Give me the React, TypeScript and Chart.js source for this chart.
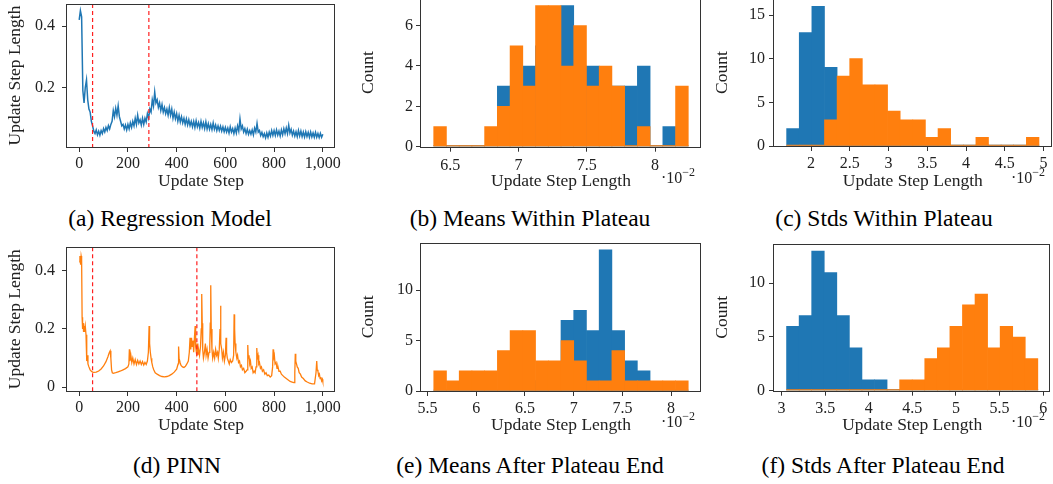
import React, { useEffect, useRef } from 'react';
import { Chart, registerables } from 'chart.js';

Chart.register(...registerables);

const BLUE = '#1f77b4';
const ORANGE = '#ff7f0e';
const SPINE = '#333333';
const TEXT = '#222222';
const FONT = "'Liberation Serif', 'Times New Roman', serif";

// ---------- (a) Regression model: update step length, one value every 5 steps ----------
const regressionLength = [
  0.42, 0.45, 0.43, 0.19, 0.15, 0.2, 0.225, 0.16, 0.13, 0.12,
  0.09, 0.075, 0.058, 0.05, 0.062, 0.046, 0.058, 0.045, 0.06, 0.05,
  0.066, 0.055, 0.07, 0.06, 0.076, 0.065, 0.08, 0.09, 0.125, 0.105,
  0.132, 0.11, 0.14, 0.105,
  0.09, 0.075, 0.08, 0.065, 0.078, 0.062, 0.08, 0.065, 0.085, 0.07,
  0.09, 0.075, 0.1, 0.08, 0.11, 0.085, 0.095, 0.078, 0.1, 0.08,
  0.1, 0.088, 0.115, 0.1, 0.13, 0.12, 0.16, 0.14, 0.185, 0.15,
  0.16, 0.135, 0.15, 0.125, 0.145, 0.12, 0.135, 0.115, 0.13, 0.11,
  0.135, 0.11, 0.13, 0.1, 0.12, 0.098, 0.115, 0.09, 0.11, 0.088,
  0.105, 0.085, 0.1, 0.08, 0.098, 0.078, 0.095, 0.076, 0.09, 0.072,
  0.09, 0.07, 0.092, 0.072, 0.086, 0.068, 0.09, 0.07, 0.085, 0.066,
  0.088, 0.065, 0.082, 0.064, 0.08, 0.063, 0.085, 0.064, 0.078, 0.06,
  0.075, 0.06, 0.074, 0.058, 0.072, 0.056, 0.07, 0.055, 0.068, 0.052,
  0.072, 0.055, 0.066, 0.05, 0.068, 0.052, 0.075, 0.058, 0.098, 0.065,
  0.075, 0.055, 0.066, 0.05, 0.064, 0.048, 0.06, 0.048, 0.062, 0.046,
  0.068, 0.055, 0.083, 0.055, 0.06, 0.044, 0.054, 0.04, 0.05, 0.036,
  0.052, 0.038, 0.055, 0.042, 0.06, 0.044, 0.06, 0.044, 0.062, 0.045,
  0.058, 0.042, 0.062, 0.046, 0.066, 0.05, 0.068, 0.05, 0.077, 0.052,
  0.064, 0.045, 0.058, 0.042, 0.056, 0.04, 0.06, 0.042, 0.058, 0.04,
  0.055, 0.039, 0.056, 0.04, 0.054, 0.038, 0.055, 0.039, 0.052, 0.038,
  0.054, 0.038, 0.05, 0.037, 0.051, 0.038, 0.048,
];
const regressionStepSize = 5;
const regressionPlateau = [55, 286];

// ---------- (d) PINN: update step length ----------
const pinnSteps = [
  0, 3, 6, 8, 10, 12, 14, 16, 18, 20,
  22, 25, 28, 30, 32, 34, 36, 40, 45, 50,
  55, 60, 70, 80, 90, 100, 110, 118, 123, 127,
  130, 133, 136, 140, 150, 160, 170, 180, 190, 200,
  204, 206, 208, 212, 216, 220, 225, 230, 235, 240,
  245, 250, 255, 260, 265, 270, 275, 280, 284, 287,
  289, 292, 295, 298, 302, 306, 312, 320, 330, 340,
  350, 360, 370, 380, 390, 400, 406, 408, 410, 414,
  418, 424, 430, 436, 442, 448, 452, 455, 458, 461,
  464, 467, 470, 473, 476, 478, 481, 484, 487, 490,
  494, 498, 501, 503, 505, 507, 510, 514, 518, 521,
  525, 529, 533, 536, 538, 540, 542, 545, 548, 552,
  556, 560, 564, 568, 571, 575, 578, 580, 582, 585,
  588, 592, 596, 600, 603, 605, 608, 612, 616, 620,
  625, 630, 634, 636, 638, 640, 643, 647, 650, 654,
  658, 662, 666, 670, 675, 680, 685, 689, 692, 694,
  697, 700, 703, 706, 710, 714, 718, 722, 726, 729,
  731, 734, 737, 740, 744, 748, 752, 757, 762, 767,
  772, 778, 784, 790, 794, 796, 798, 801, 804, 808,
  812, 816, 820, 825, 830, 836, 842, 850, 858, 866,
  874, 882, 885, 887, 889, 892, 895, 899, 903, 908,
  913, 920, 928, 936, 946, 956, 966, 972, 975, 977,
  980, 983, 986, 989, 992, 995, 998, 1000,
];
const pinnLength = [
  0.43, 0.45, 0.42, 0.45, 0.44, 0.24, 0.2, 0.22, 0.19, 0.21,
  0.19, 0.21, 0.18, 0.12, 0.09, 0.11, 0.08, 0.07, 0.06, 0.055,
  0.052, 0.051, 0.052, 0.056, 0.063, 0.073, 0.088, 0.105, 0.118, 0.125,
  0.1, 0.06, 0.05, 0.048, 0.05, 0.053, 0.056, 0.06, 0.064, 0.07,
  0.08, 0.13, 0.09, 0.11, 0.085, 0.1, 0.08, 0.095, 0.078, 0.092,
  0.08, 0.09, 0.078, 0.088, 0.076, 0.085, 0.078, 0.09, 0.12, 0.21,
  0.15, 0.12, 0.1, 0.085, 0.07, 0.06, 0.05, 0.045, 0.04, 0.037,
  0.036, 0.037, 0.04, 0.045, 0.052, 0.062, 0.08, 0.14, 0.1, 0.085,
  0.075, 0.07, 0.068, 0.072, 0.08, 0.09, 0.12, 0.17, 0.13, 0.17,
  0.14, 0.16, 0.12, 0.17, 0.21, 0.14, 0.12, 0.15, 0.11, 0.13,
  0.11, 0.14, 0.2, 0.32, 0.22, 0.13, 0.1, 0.12, 0.15, 0.11,
  0.13, 0.1, 0.12, 0.14, 0.22, 0.35, 0.2, 0.13, 0.1, 0.12,
  0.1, 0.13, 0.11, 0.12, 0.1, 0.13, 0.2, 0.28, 0.15, 0.13,
  0.1, 0.12, 0.09, 0.11, 0.17, 0.12, 0.1, 0.09, 0.08, 0.095,
  0.085, 0.09, 0.11, 0.25, 0.2, 0.15, 0.12, 0.1, 0.11, 0.085,
  0.09, 0.07, 0.075, 0.06, 0.065, 0.05, 0.055, 0.06, 0.145, 0.1,
  0.11, 0.08, 0.09, 0.065, 0.07, 0.05, 0.055, 0.05, 0.07, 0.135,
  0.1, 0.11, 0.08, 0.085, 0.065, 0.07, 0.055, 0.06, 0.045, 0.05,
  0.04, 0.042, 0.035, 0.04, 0.07, 0.13, 0.1, 0.11, 0.08, 0.085,
  0.065, 0.07, 0.055, 0.055, 0.045, 0.04, 0.035, 0.03, 0.025, 0.02,
  0.018, 0.016, 0.05, 0.115, 0.09, 0.08, 0.07, 0.065, 0.05, 0.045,
  0.035, 0.03, 0.022, 0.018, 0.014, 0.012, 0.012, 0.05, 0.09, 0.06,
  0.055, 0.04, 0.045, 0.03, 0.035, 0.022, 0.028, 0.02,
];
const pinnPlateau = [55, 483];

const stepTicks = [0, 200, 400, 600, 800, 1000];
const regressionLengthTicks = [0.2, 0.4];
const pinnLengthTicks = [0, 0.2, 0.4];

// ---------- Histograms (x in units of 1e-2), 20 bins each ----------
// (b) Means within plateau
const meansWithinBinStart = 6.379;
const meansWithinBinWidth = 0.0932;
const meansWithinRegression = [0, 0, 0, 0, 0, 3, 3, 4, 5, 6, 7, 4, 4, 3, 3, 3, 4, 0, 1, 0];
const meansWithinPinn = [1, 0, 0, 0, 1, 2, 5, 3, 7, 7, 4, 6, 3, 4, 3, 0, 1, 0, 0, 3];
const meansWithinXTicks = [6.5, 7, 7.5, 8];
const meansWithinYTicks = [0, 2, 4, 6];

// (c) Stds within plateau
const stdsWithinBinStart = 1.684;
const stdsWithinBinWidth = 0.1628;
const stdsWithinRegression = [2, 13, 16, 9, 7, 3, 0, 0, 0, 0, 0, 0, 0, 0, 0, 0, 0, 0, 0, 0];
const stdsWithinPinn = [0, 0, 0, 3, 8, 10, 7, 7, 4, 3, 3, 1, 2, 0, 0, 1, 0, 0, 0, 1];
const stdsWithinXTicks = [2, 2.5, 3, 3.5, 4, 4.5, 5];
const stdsWithinYTicks = [0, 5, 10, 15];

// (e) Means after plateau end
const meansAfterBinStart = 5.564;
const meansAfterBinWidth = 0.1306;
const meansAfterRegression = [0, 0, 0, 0, 0, 0, 0, 1, 1, 2, 7, 8, 6, 14, 6, 3, 2, 0, 0, 0];
const meansAfterPinn = [2, 1, 2, 2, 2, 4, 6, 6, 3, 3, 5, 3, 1, 1, 4, 1, 1, 1, 1, 1];
const meansAfterXTicks = [5.5, 6, 6.5, 7, 7.5, 8];
const meansAfterYTicks = [0, 5, 10];

// (f) Stds after plateau end
const stdsAfterBinStart = 3.058;
const stdsAfterBinWidth = 0.144;
const stdsAfterRegression = [6, 7, 13, 11, 7, 4, 1, 1, 0, 0, 0, 0, 0, 0, 0, 0, 0, 0, 0, 0];
const stdsAfterPinn = [0, 0, 0, 0, 0, 0, 0, 0, 0, 1, 1, 3, 4, 6, 8, 9, 4, 6, 5, 3];
const stdsAfterXTicks = [3, 3.5, 4, 4.5, 5, 5.5, 6];
const stdsAfterYTicks = [0, 5, 10];

const captions = [
  '(a) Regression Model',
  '(b) Means Within Plateau',
  '(c) Stds Within Plateau',
  '(d) PINN',
  '(e) Means After Plateau End',
  '(f) Stds After Plateau End',
];

// ---------- helpers ----------
const histPoints = (counts: number[], start: number, width: number) =>
  counts.map((c, i) => ({ x: start + (i + 0.5) * width, y: c }));

const histDatasets = (blue: number[], orange: number[], start: number, width: number) => [
  {
    label: 'Regression',
    data: histPoints(blue, start, width),
    backgroundColor: BLUE,
    borderWidth: 0,
    barPercentage: 1,
    categoryPercentage: 1,
    grouped: false,
    minBarLength: 1,
    order: 1,
  },
  {
    label: 'PINN',
    data: histPoints(orange, start, width),
    backgroundColor: ORANGE,
    borderWidth: 0,
    barPercentage: 1,
    categoryPercentage: 1,
    grouped: false,
    minBarLength: 1,
    order: 0,
  },
];

const fmtNum = (v: number) => (Math.abs(v) >= 1000 ? v.toLocaleString('en-US') : String(Math.round(v * 1000) / 1000));

type Box = { left: number; top: number; width: number; height: number };
type Area = { left: number; top: number; right: number; bottom: number };
type Panel = {
  canvas: Box;
  area: Area;
  type: 'line' | 'bar';
  datasets: any[];
  xMin: number; xMax: number; xTicks: number[]; xTitle: string; xPad: number; xTitlePad: number;
  yMin: number; yMax: number; yTicks: number[]; yTitle: string; yPad: number; yTitlePad: number;
  vlines: number[];
};

const lineDataset = (xs: number[], ys: number[], color: string, width: number) => ({
  data: ys.map((y, i) => ({ x: xs[i], y })),
  borderColor: color,
  backgroundColor: color,
  borderWidth: width,
  pointRadius: 0,
  tension: 0,
  fill: false,
});

const regressionSteps = regressionLength.map((_, i) => i * regressionStepSize);

const panels: Panel[] = [
  {
    canvas: { left: 0, top: 0, width: 345, height: 192 },
    area: { left: 67, top: 4, right: 335, bottom: 147 },
    type: 'line',
    datasets: [lineDataset(regressionSteps, regressionLength, BLUE, 1.5)],
    xMin: -50, xMax: 1050, xTicks: stepTicks, xTitle: 'Update Step', xPad: 2.4, xTitlePad: 0,
    yMin: 0.0064, yMax: 0.4717, yTicks: regressionLengthTicks, yTitle: 'Update Step Length', yPad: 7, yTitlePad: 5,
    vlines: regressionPlateau,
  },
  {
    canvas: { left: 350, top: -12, width: 362, height: 204 },
    area: { left: 421, top: -1.6, right: 701, bottom: 146.7 },
    type: 'bar',
    datasets: histDatasets(meansWithinRegression, meansWithinPinn, meansWithinBinStart, meansWithinBinWidth),
    xMin: 6.286, xMax: 8.336, xTicks: meansWithinXTicks, xTitle: 'Update Step Length', xPad: 4.5, xTitlePad: 0,
    yMin: 0, yMax: 7.35, yTicks: meansWithinYTicks, yTitle: 'Count', yPad: 3, yTitlePad: 7.5,
    vlines: [],
  },
  {
    canvas: { left: 700, top: -12, width: 353, height: 204 },
    area: { left: 774, top: -0.7, right: 1051.6, bottom: 146 },
    type: 'bar',
    datasets: histDatasets(stdsWithinRegression, stdsWithinPinn, stdsWithinBinStart, stdsWithinBinWidth),
    xMin: 1.521, xMax: 5.103, xTicks: stdsWithinXTicks, xTitle: 'Update Step Length', xPad: 3.4, xTitlePad: 0,
    yMin: 0, yMax: 16.8, yTicks: stdsWithinYTicks, yTitle: 'Count', yPad: 4, yTitlePad: 11.5,
    vlines: [],
  },
  {
    canvas: { left: 0, top: 236, width: 345, height: 200 },
    area: { left: 67, top: 247.3, right: 335, bottom: 391 },
    type: 'line',
    datasets: [lineDataset(pinnSteps, pinnLength, ORANGE, 1.3)],
    xMin: -50, xMax: 1050, xTicks: stepTicks, xTitle: 'Update Step', xPad: 2.4, xTitlePad: 0.5,
    yMin: -0.0127, yMax: 0.48, yTicks: pinnLengthTicks, yTitle: 'Update Step Length', yPad: 7, yTitlePad: 5,
    vlines: pinnPlateau,
  },
  {
    canvas: { left: 350, top: 236, width: 362, height: 200 },
    area: { left: 421, top: 242.7, right: 701, bottom: 391 },
    type: 'bar',
    datasets: histDatasets(meansAfterRegression, meansAfterPinn, meansAfterBinStart, meansAfterBinWidth),
    xMin: 5.433, xMax: 8.307, xTicks: meansAfterXTicks, xTitle: 'Update Step Length', xPad: 3.4, xTitlePad: 0,
    yMin: 0, yMax: 14.7, yTicks: meansAfterYTicks, yTitle: 'Count', yPad: 3, yTitlePad: 7.5,
    vlines: [],
  },
  {
    canvas: { left: 700, top: 236, width: 353, height: 200 },
    area: { left: 774, top: 244, right: 1050.4, bottom: 390.7 },
    type: 'bar',
    datasets: histDatasets(stdsAfterRegression, stdsAfterPinn, stdsAfterBinStart, stdsAfterBinWidth),
    xMin: 2.914, xMax: 6.082, xTicks: stdsAfterXTicks, xTitle: 'Update Step Length', xPad: 3.7, xTitlePad: 0,
    yMin: 0, yMax: 13.65, yTicks: stdsAfterYTicks, yTitle: 'Count', yPad: 4, yTitlePad: 11.5,
    vlines: [],
  },
];

const framePlugin = (vlines: number[]) => ({
  id: 'frameAndLines',
  afterDatasetsDraw(chart: any) {
    const { ctx, chartArea: a, scales } = chart;
    ctx.save();
    if (vlines.length) {
      ctx.beginPath();
      ctx.setLineDash([4, 3]);
      ctx.strokeStyle = '#ff2020';
      ctx.lineWidth = 1.2;
      for (const v of vlines) {
        const x = scales.x.getPixelForValue(v);
        ctx.moveTo(x, a.top);
        ctx.lineTo(x, a.bottom);
      }
      ctx.stroke();
      ctx.setLineDash([]);
    }
    ctx.strokeStyle = SPINE;
    ctx.lineWidth = 1;
    const l = Math.round(a.left) - 0.5;
    const r = Math.round(a.right) - 0.5;
    const t = Math.round(a.top) + 0.5;
    const b = Math.round(a.bottom) + 0.5;
    ctx.strokeRect(l, t, r - l, b - t);
    ctx.restore();
  },
});

function buildChart(canvas: HTMLCanvasElement, p: Panel) {
  const yWidth = p.area.left - p.canvas.left;
  const xHeight = p.canvas.top + p.canvas.height - p.area.bottom;
  const padTop = p.area.top - p.canvas.top;
  const padRight = p.canvas.left + p.canvas.width - p.area.right;
  const tickFont = { family: FONT, size: 16 };
  const titleFont = { family: FONT, size: 17.5 };
  const grid = {
    display: true,
    drawOnChartArea: false,
    drawTicks: true,
    tickLength: 5,
    color: SPINE,
    lineWidth: 1,
    offset: false,
  };
  return new Chart(canvas, {
    type: p.type,
    data: { datasets: p.datasets },
    options: {
      animation: false,
      responsive: false,
      maintainAspectRatio: false,
      events: [],
      layout: { padding: { left: 0, top: padTop, right: padRight, bottom: 0 }, autoPadding: false },
      plugins: { legend: { display: false }, tooltip: { enabled: false }, title: { display: false } },
      scales: {
        x: {
          type: 'linear',
          min: p.xMin,
          max: p.xMax,
          offset: false,
          grid,
          border: { display: false },
          ticks: {
            autoSkip: false,
            maxRotation: 0,
            minRotation: 0,
            padding: p.xPad,
            color: TEXT,
            font: tickFont,
            callback: (v: any) => fmtNum(Number(v)),
          },
          title: { display: true, text: p.xTitle, color: TEXT, font: titleFont, padding: { top: 0, bottom: p.xTitlePad } },
          afterBuildTicks: (s: any) => {
            s.ticks = p.xTicks.map((v) => ({ value: v }));
          },
          afterFit: (s: any) => {
            s.height = xHeight;
            s.paddingLeft = 0;
            s.paddingRight = 0;
            s.paddingTop = 0;
            s.paddingBottom = 0;
          },
        },
        y: {
          type: 'linear',
          min: p.yMin,
          max: p.yMax,
          grid,
          border: { display: false },
          ticks: {
            autoSkip: false,
            padding: p.yPad,
            color: TEXT,
            font: tickFont,
            callback: (v: any) => fmtNum(Number(v)),
          },
          title: { display: true, text: p.yTitle, color: TEXT, font: titleFont, padding: { top: p.yTitlePad, bottom: 0 } },
          afterBuildTicks: (s: any) => {
            s.ticks = p.yTicks.map((v) => ({ value: v }));
          },
          afterFit: (s: any) => {
            s.width = yWidth;
            s.paddingLeft = 0;
            s.paddingRight = 0;
            s.paddingTop = 0;
            s.paddingBottom = 0;
          },
        },
      },
    } as any,
    plugins: [framePlugin(p.vlines)],
  } as any);
}

function PanelCanvas({ p }: { p: Panel }) {
  const ref = useRef<HTMLCanvasElement | null>(null);
  useEffect(() => {
    if (!ref.current) return;
    const chart = buildChart(ref.current, p);
    return () => chart.destroy();
  }, [p]);
  return (
    <canvas
      ref={ref}
      width={p.canvas.width}
      height={p.canvas.height}
      style={{
        position: 'absolute',
        left: p.canvas.left,
        top: p.canvas.top,
        width: p.canvas.width,
        height: p.canvas.height,
      }}
    />
  );
}

const exponentPositions = [
  { left: 661, top: 169.6 },
  { left: 1011, top: 169.6 },
  { left: 661, top: 413.6 },
  { left: 1011, top: 413.6 },
];

const captionPositions = [
  { cx: 170, cy: 218 },
  { cx: 530, cy: 218 },
  { cx: 884, cy: 218 },
  { cx: 177, cy: 465 },
  { cx: 530, cy: 465 },
  { cx: 883, cy: 465 },
];

export default function App() {
  return (
    <div
      style={{
        position: 'absolute',
        left: 0,
        top: 0,
        width: 1053,
        height: 484,
        overflow: 'hidden',
        background: '#ffffff',
      }}
    >
      {panels.map((p, i) => (
        <PanelCanvas key={i} p={p} />
      ))}
      {exponentPositions.map((e, i) => (
        <div
          key={'e' + i}
          style={{
            position: 'absolute',
            left: e.left,
            top: e.top,
            fontFamily: FONT,
            fontSize: 16,
            lineHeight: '16px',
            color: TEXT,
            whiteSpace: 'nowrap',
          }}
        >
          ·10
          <span style={{ fontSize: 12, position: 'relative', top: -7 }}>−2</span>
        </div>
      ))}
      {captions.map((c, i) => (
        <div
          key={'c' + i}
          style={{
            position: 'absolute',
            left: captionPositions[i].cx - 200,
            top: captionPositions[i].cy - 12,
            width: 400,
            textAlign: 'center',
            fontFamily: FONT,
            fontSize: 23.5,
            lineHeight: '24px',
            color: '#000000',
            whiteSpace: 'nowrap',
          }}
        >
          {c}
        </div>
      ))}
    </div>
  );
}
